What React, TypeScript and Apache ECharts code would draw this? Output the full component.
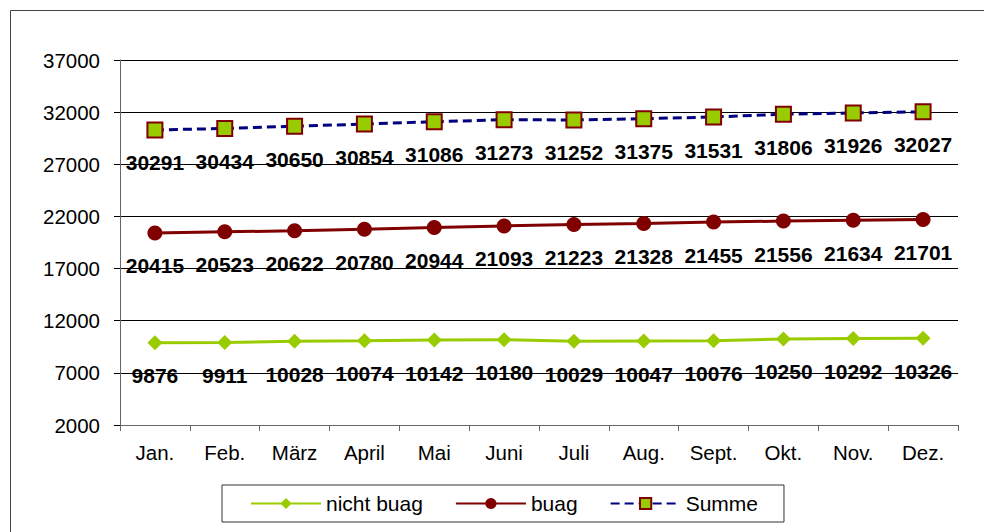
import React, { useEffect, useRef } from "react";
import * as echarts from "echarts";

const months = ["Jan.", "Feb.", "März", "April", "Mai", "Juni", "Juli", "Aug.", "Sept.", "Okt.", "Nov.", "Dez."];
const nichtBuag = [9876, 9911, 10028, 10074, 10142, 10180, 10029, 10047, 10076, 10250, 10292, 10326];
const buag = [20415, 20523, 20622, 20780, 20944, 21093, 21223, 21328, 21455, 21556, 21634, 21701];
const summe = [30291, 30434, 30650, 30854, 31086, 31273, 31252, 31375, 31531, 31806, 31926, 32027];

const FONT = "'Liberation Sans', Arial, sans-serif";

export default function App() {
  const ref = useRef<HTMLDivElement>(null);
  useEffect(() => {
    document.body.style.margin = "0";
    document.body.style.overflow = "hidden";
    if (!ref.current) return;
    const chart = echarts.init(ref.current, undefined, { renderer: "svg" });
    const label = {
      show: true,
      position: "inside" as const,
      offset: [0, 33],
      color: "#000",
      fontWeight: "bold" as const,
      fontSize: 21,
      fontFamily: FONT,
    };
    chart.setOption({
      animation: false,
      backgroundColor: "#fff",
      textStyle: { fontFamily: FONT },
      graphic: [
        {
          type: "line",
          shape: { x1: 10.5, y1: 10.5, x2: 10.5, y2: 532 },
          style: { stroke: "#444", lineWidth: 1 },
          silent: true,
          z: -1,
        },
        {
          type: "line",
          shape: { x1: 10.5, y1: 10.5, x2: 984, y2: 10.5 },
          style: { stroke: "#444", lineWidth: 1 },
          silent: true,
          z: -1,
        },
      ],
      grid: { left: 120, top: 60, right: 26, bottom: 107 },
      legend: {
        left: 222,
        top: 485,
        padding: [8, 26, 8, 28],
        borderColor: "#333",
        borderWidth: 1,
        itemWidth: 70,
        itemHeight: 14,
        itemGap: 32,
        textStyle: { fontSize: 21, color: "#000", fontFamily: FONT },
        data: ["nicht buag", "buag", "Summe"],
      },
      xAxis: {
        type: "category",
        data: months,
        boundaryGap: true,
        axisLine: { lineStyle: { color: "#666", width: 1 } },
        axisTick: { show: true, length: 6, lineStyle: { color: "#666" } },
        axisLabel: { fontSize: 20.5, color: "#000", margin: 17, fontFamily: FONT },
      },
      yAxis: {
        type: "value",
        min: 2000,
        max: 37000,
        interval: 5000,
        axisLine: { show: true, lineStyle: { color: "#666", width: 1 } },
        axisTick: { show: true, length: 6, lineStyle: { color: "#000" } },
        axisLabel: {
          fontSize: 20.5,
          color: "#000",
          margin: 20,
          fontFamily: FONT,
          formatter: (v: number) => String(v),
        },
        splitLine: { show: true, lineStyle: { color: "#000", width: 1 } },
      },
      series: [
        {
          name: "nicht buag",
          type: "line",
          data: nichtBuag,
          symbol: "diamond",
          symbolSize: 15,
          lineStyle: { color: "#99CC00", width: 3 },
          itemStyle: { color: "#99CC00" },
          label,
          z: 3,
        },
        {
          name: "buag",
          type: "line",
          data: buag,
          symbol: "circle",
          symbolSize: 15,
          lineStyle: { color: "#800000", width: 3 },
          itemStyle: { color: "#800000" },
          label,
          z: 3,
        },
        {
          name: "Summe",
          type: "line",
          data: summe,
          symbol: "rect",
          symbolSize: 15,
          lineStyle: { color: "#000080", width: 3, type: [9, 5] },
          itemStyle: { color: "#99CC00", borderColor: "#800000", borderWidth: 2 },
          label,
          z: 3,
        },
      ],
    });
    return () => chart.dispose();
  }, []);
  return (
    <div
      ref={ref}
      style={{ position: "fixed", left: 0, top: 0, width: 984, height: 532, background: "#fff" }}
    />
  );
}
